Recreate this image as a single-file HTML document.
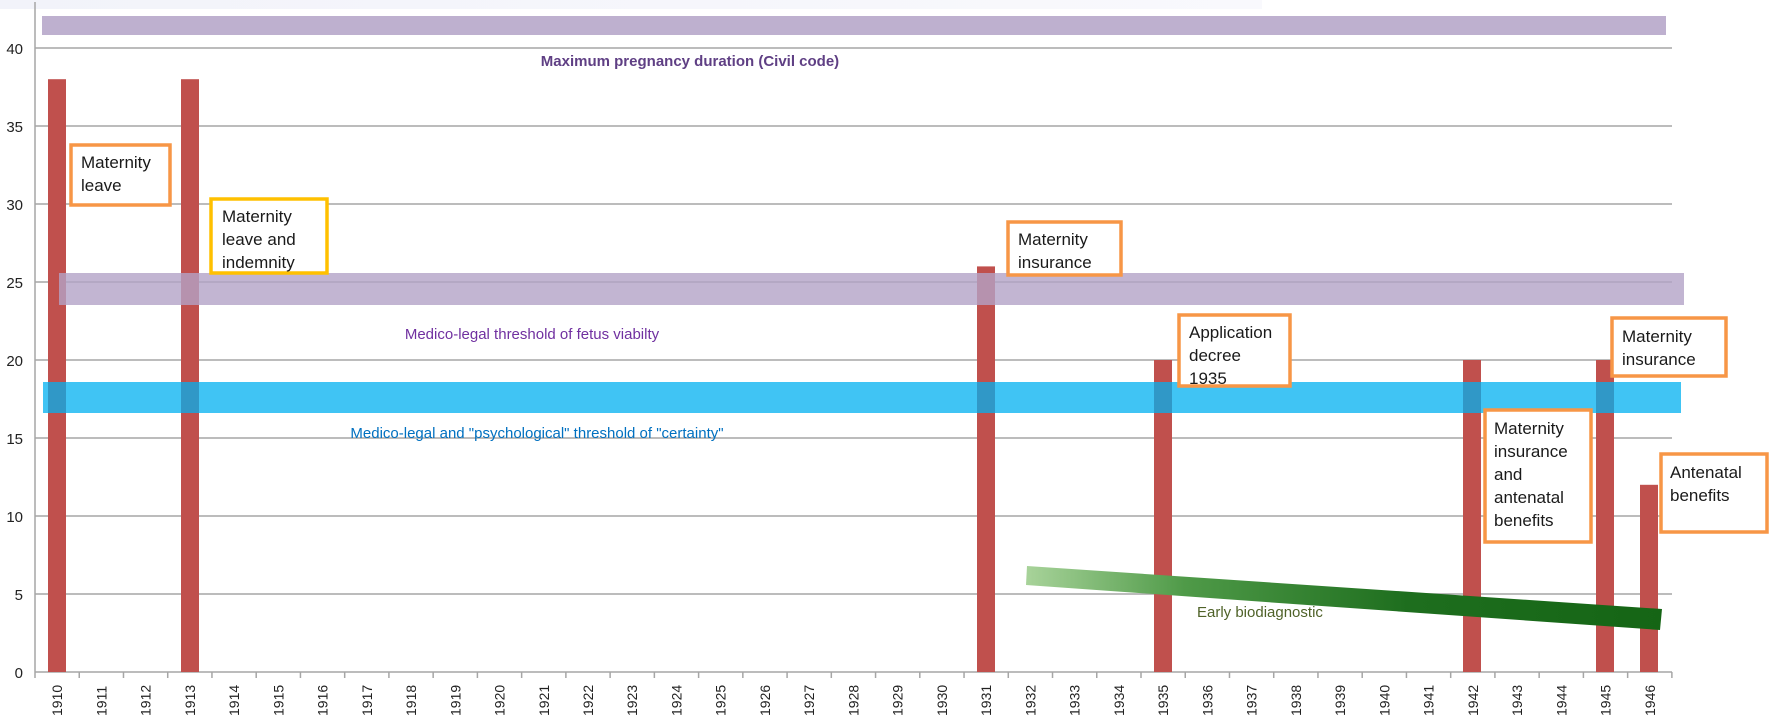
<!DOCTYPE html>
<html><head><meta charset="utf-8"><style>
html,body{margin:0;padding:0;background:#fff;width:1772px;height:720px;overflow:hidden}
svg{display:block}
.box{fill:#fff;stroke:#f79646;stroke-width:3.5}
.bt{font-family:"Liberation Sans",sans-serif;font-size:17px;fill:#1a1a1a}
.yl{font-family:"Liberation Sans",sans-serif;font-size:15px;fill:#222;text-anchor:end}
.xl{font-family:"Liberation Sans",sans-serif;font-size:14px;fill:#222}
</style></head><body>
<svg width="1772" height="720" viewBox="0 0 1772 720" xmlns="http://www.w3.org/2000/svg">
<defs>
<linearGradient id="g1" x1="0" x2="1" y1="0" y2="0"><stop offset="0" stop-color="#f2f3fa"/><stop offset="1" stop-color="#f9f9fd"/></linearGradient>
<linearGradient id="gg" x1="0" x2="1" y1="0" y2="0"><stop offset="0" stop-color="#a8d39a"/><stop offset="0.25" stop-color="#4f9a48"/><stop offset="0.6" stop-color="#1e6e1e"/><stop offset="1" stop-color="#156515"/></linearGradient>
</defs>
<rect x="0" y="0" width="1262" height="9" fill="url(#g1)"/>
<g stroke="#a6a6a6" stroke-width="1.5">
<line x1="35" x2="1672" y1="48" y2="48"/>
<line x1="35" x2="1672" y1="126" y2="126"/>
<line x1="35" x2="1672" y1="204" y2="204"/>
<line x1="35" x2="1672" y1="282" y2="282"/>
<line x1="35" x2="1672" y1="360" y2="360"/>
<line x1="35" x2="1672" y1="438" y2="438"/>
<line x1="35" x2="1672" y1="516" y2="516"/>
<line x1="35" x2="1672" y1="594" y2="594"/>
<line x1="35" x2="1672" y1="672" y2="672"/>
<line x1="35" x2="35" y1="2" y2="672"/>
</g>
<g class="yl">
<text x="23" y="54">40</text><text x="23" y="132">35</text><text x="23" y="210">30</text><text x="23" y="288">25</text><text x="23" y="366">20</text><text x="23" y="444">15</text><text x="23" y="522">10</text><text x="23" y="600">5</text><text x="23" y="678">0</text>
</g>
<g id="xt" stroke="#a6a6a6" stroke-width="1.5"></g>
<g id="xlabels"></g>
<rect x="42" y="16" width="1624" height="19" fill="#b3a2c7" opacity="0.85"/>
<text x="690" y="66" text-anchor="middle" font-family="Liberation Sans,sans-serif" font-size="15" font-weight="bold" fill="#5f3f84">Maximum pregnancy duration (Civil code)</text>
<g fill="#c0504d">
<rect x="48" y="79.2" width="18" height="592.8"/>
<rect x="181" y="79.2" width="18" height="592.8"/>
<rect x="977" y="266.4" width="18" height="405.6"/>
<rect x="1154" y="360" width="18" height="312"/>
<rect x="1463" y="360" width="18" height="312"/>
<rect x="1596" y="360" width="18" height="312"/>
<rect x="1640" y="484.8" width="18" height="187.2"/>
</g>
<rect x="59" y="273" width="1625" height="32" fill="#b3a2c7" opacity="0.8"/>
<text x="532" y="339" text-anchor="middle" font-family="Liberation Sans,sans-serif" font-size="15" fill="#7030a0">Medico-legal threshold of fetus viabilty</text>
<rect x="43" y="382" width="1638" height="31" fill="#00b0f0" opacity="0.75"/>
<text x="537" y="438" text-anchor="middle" font-family="Liberation Sans,sans-serif" font-size="15" fill="#0070c0">Medico-legal and "psychological" threshold of "certainty"</text>
<polygon points="1027,566 1662,609 1660,630 1026,585" fill="url(#gg)"/>
<text x="1197" y="617" font-family="Liberation Sans,sans-serif" font-size="15" fill="#4f6228">Early biodiagnostic</text>
<rect class="box" x="71" y="145" width="99" height="60"/>
<text class="bt" x="81" y="168">Maternity</text><text class="bt" x="81" y="191">leave</text>
<rect class="box" x="211" y="199" width="116" height="74" style="stroke:#ffc000"/>
<text class="bt" x="222" y="222">Maternity</text><text class="bt" x="222" y="245">leave and</text><text class="bt" x="222" y="268">indemnity</text>
<rect class="box" x="1008" y="222" width="113" height="53"/>
<text class="bt" x="1018" y="245">Maternity</text><text class="bt" x="1018" y="268">insurance</text>
<rect class="box" x="1179" y="315" width="111" height="71"/>
<text class="bt" x="1189" y="338">Application</text><text class="bt" x="1189" y="361">decree</text><text class="bt" x="1189" y="384">1935</text>
<rect class="box" x="1612" y="318" width="114" height="58"/>
<text class="bt" x="1622" y="342">Maternity</text><text class="bt" x="1622" y="365">insurance</text>
<rect class="box" x="1485" y="410" width="106" height="132"/>
<text class="bt" x="1494" y="434">Maternity</text><text class="bt" x="1494" y="457">insurance</text><text class="bt" x="1494" y="480">and</text><text class="bt" x="1494" y="503">antenatal</text><text class="bt" x="1494" y="526">benefits</text>
<rect class="box" x="1661" y="454" width="106" height="78"/>
<text class="bt" x="1670" y="478">Antenatal</text><text class="bt" x="1670" y="501">benefits</text>
</svg>
<script>
(function(){
var ns="http://www.w3.org/2000/svg";
var t=document.getElementById("xt"),l=document.getElementById("xlabels");
for(var i=0;i<=37;i++){var x=35+44.24*i;var ln=document.createElementNS(ns,"line");
ln.setAttribute("x1",x);ln.setAttribute("x2",x);ln.setAttribute("y1",672);ln.setAttribute("y2",678);t.appendChild(ln);}
for(var i=0;i<37;i++){var cx=35+44.24*(i+0.5)+5;var tx=document.createElementNS(ns,"text");
tx.setAttribute("class","xl");tx.setAttribute("transform","translate("+cx+",716) rotate(-90)");tx.textContent=String(1910+i);l.appendChild(tx);}
})();
</script>
</body></html>
